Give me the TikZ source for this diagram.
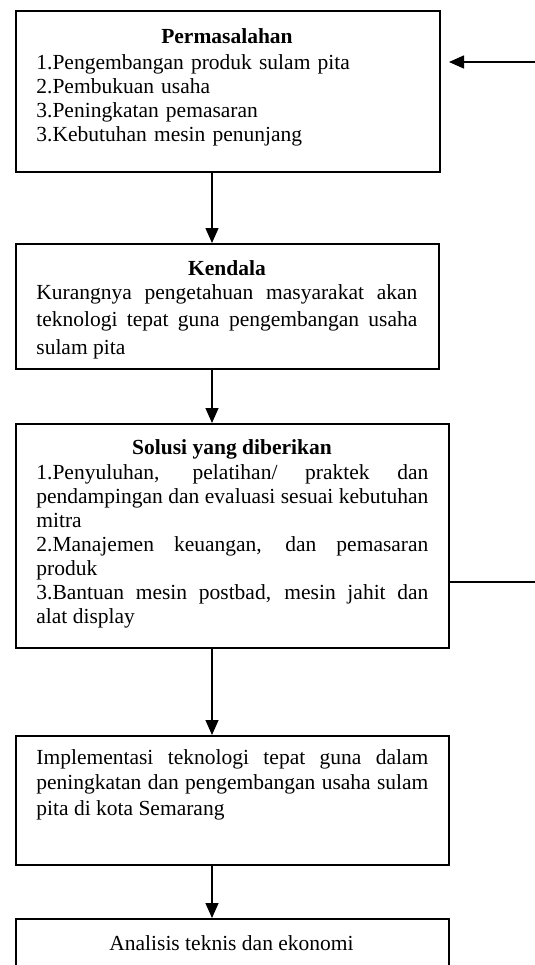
\documentclass[tikz,border=0pt]{standalone}
\usepackage{fontspec}
\setmainfont{Liberation Serif}
\usetikzlibrary{arrows.meta}
\begin{document}
\begin{tikzpicture}[x=0.5pt,y=-0.5pt,
  boxnode/.style={draw,line width=0.9pt,rectangle,inner sep=0pt,anchor=north west},
  ttl/.style={inner sep=0pt,anchor=base,font=\fontsize{10.75pt}{12pt}\selectfont\bfseries},
  body/.style={inner sep=0pt,anchor=base west,font=\fontsize{10.75pt}{12pt}\selectfont},
  conn/.style={line width=0.7pt},
  arr/.style={conn,-{Triangle[length=7.5pt,width=6.5pt]}}]
\useasboundingbox (0,0) rectangle (535,965);
\clip (0,0) rectangle (535,965);
\hyphenpenalty=10000
% boxes
\node[boxnode,minimum width=212pt,minimum height=80.5pt] (b1) at (15,10) {};
\node[boxnode,minimum width=211.5pt,minimum height=62.5pt] (b2) at (15,243) {};
\node[boxnode,minimum width=216.5pt,minimum height=112pt] (b3) at (15,423) {};
\node[boxnode,minimum width=216.5pt,minimum height=64.5pt] (b4) at (15,735) {};
\node[boxnode,minimum width=216.5pt,minimum height=45pt] (b5) at (15,918) {};
% texts
\node[ttl] (t1) at (227,43) {Permasalahan};
\node[body,text width=190.5pt,align=left] (x1) at (36,69) {1.Pengembangan produk sulam pita\\2.Pembukuan usaha\\3.Peningkatan pemasaran\\3.Kebutuhan mesin penunjang};
\node[ttl] (t2) at (227,275) {Kendala};
\node[body,text width=190.5pt,align=justify,font=\fontsize{10.75pt}{13.75pt}\selectfont] (x2) at (36,299) {Kurangnya pengetahuan masyarakat akan\linebreak teknologi tepat guna pengembangan usaha\linebreak sulam pita};
\node[ttl] (t3) at (232,454) {Solusi yang diberikan};
\node[body,text width=196pt,align=justify] (x3) at (36,479) {1.Penyuluhan, pelatihan/ praktek dan\linebreak pendampingan dan evaluasi sesuai kebutuhan\linebreak mitra\\2.Manajemen keuangan, dan pemasaran\linebreak produk\\3.Bantuan mesin postbad, mesin jahit dan\linebreak alat display};
\node[body,text width=196pt,align=justify,font=\fontsize{10.75pt}{12.75pt}\selectfont] (x4) at (36,764) {Implementasi teknologi tepat guna dalam\linebreak peningkatan dan pengembangan usaha sulam\linebreak pita di kota Semarang};
\node[body,anchor=base] (x5) at (231.5,950) {Analisis teknis dan ekonomi};
% connectors
\coordinate (ax) at (212,0);
\draw[arr] (b1.south -| ax) -- (b2.north -| ax);
\draw[arr] (b2.south -| ax) -- (b3.north -| ax);
\draw[arr] (b3.south -| ax) -- (b4.north -| ax);
\draw[arr] (b4.south -| ax) -- (b5.north -| ax);
\coordinate (inR) at (535,62);
\coordinate (inL) at (449,62);
\draw[arr] (inR) -- (inL);
\coordinate (outR) at (535,582);
\draw[conn] (outR -| b3.east) -- (outR);
\end{tikzpicture}
\end{document}
